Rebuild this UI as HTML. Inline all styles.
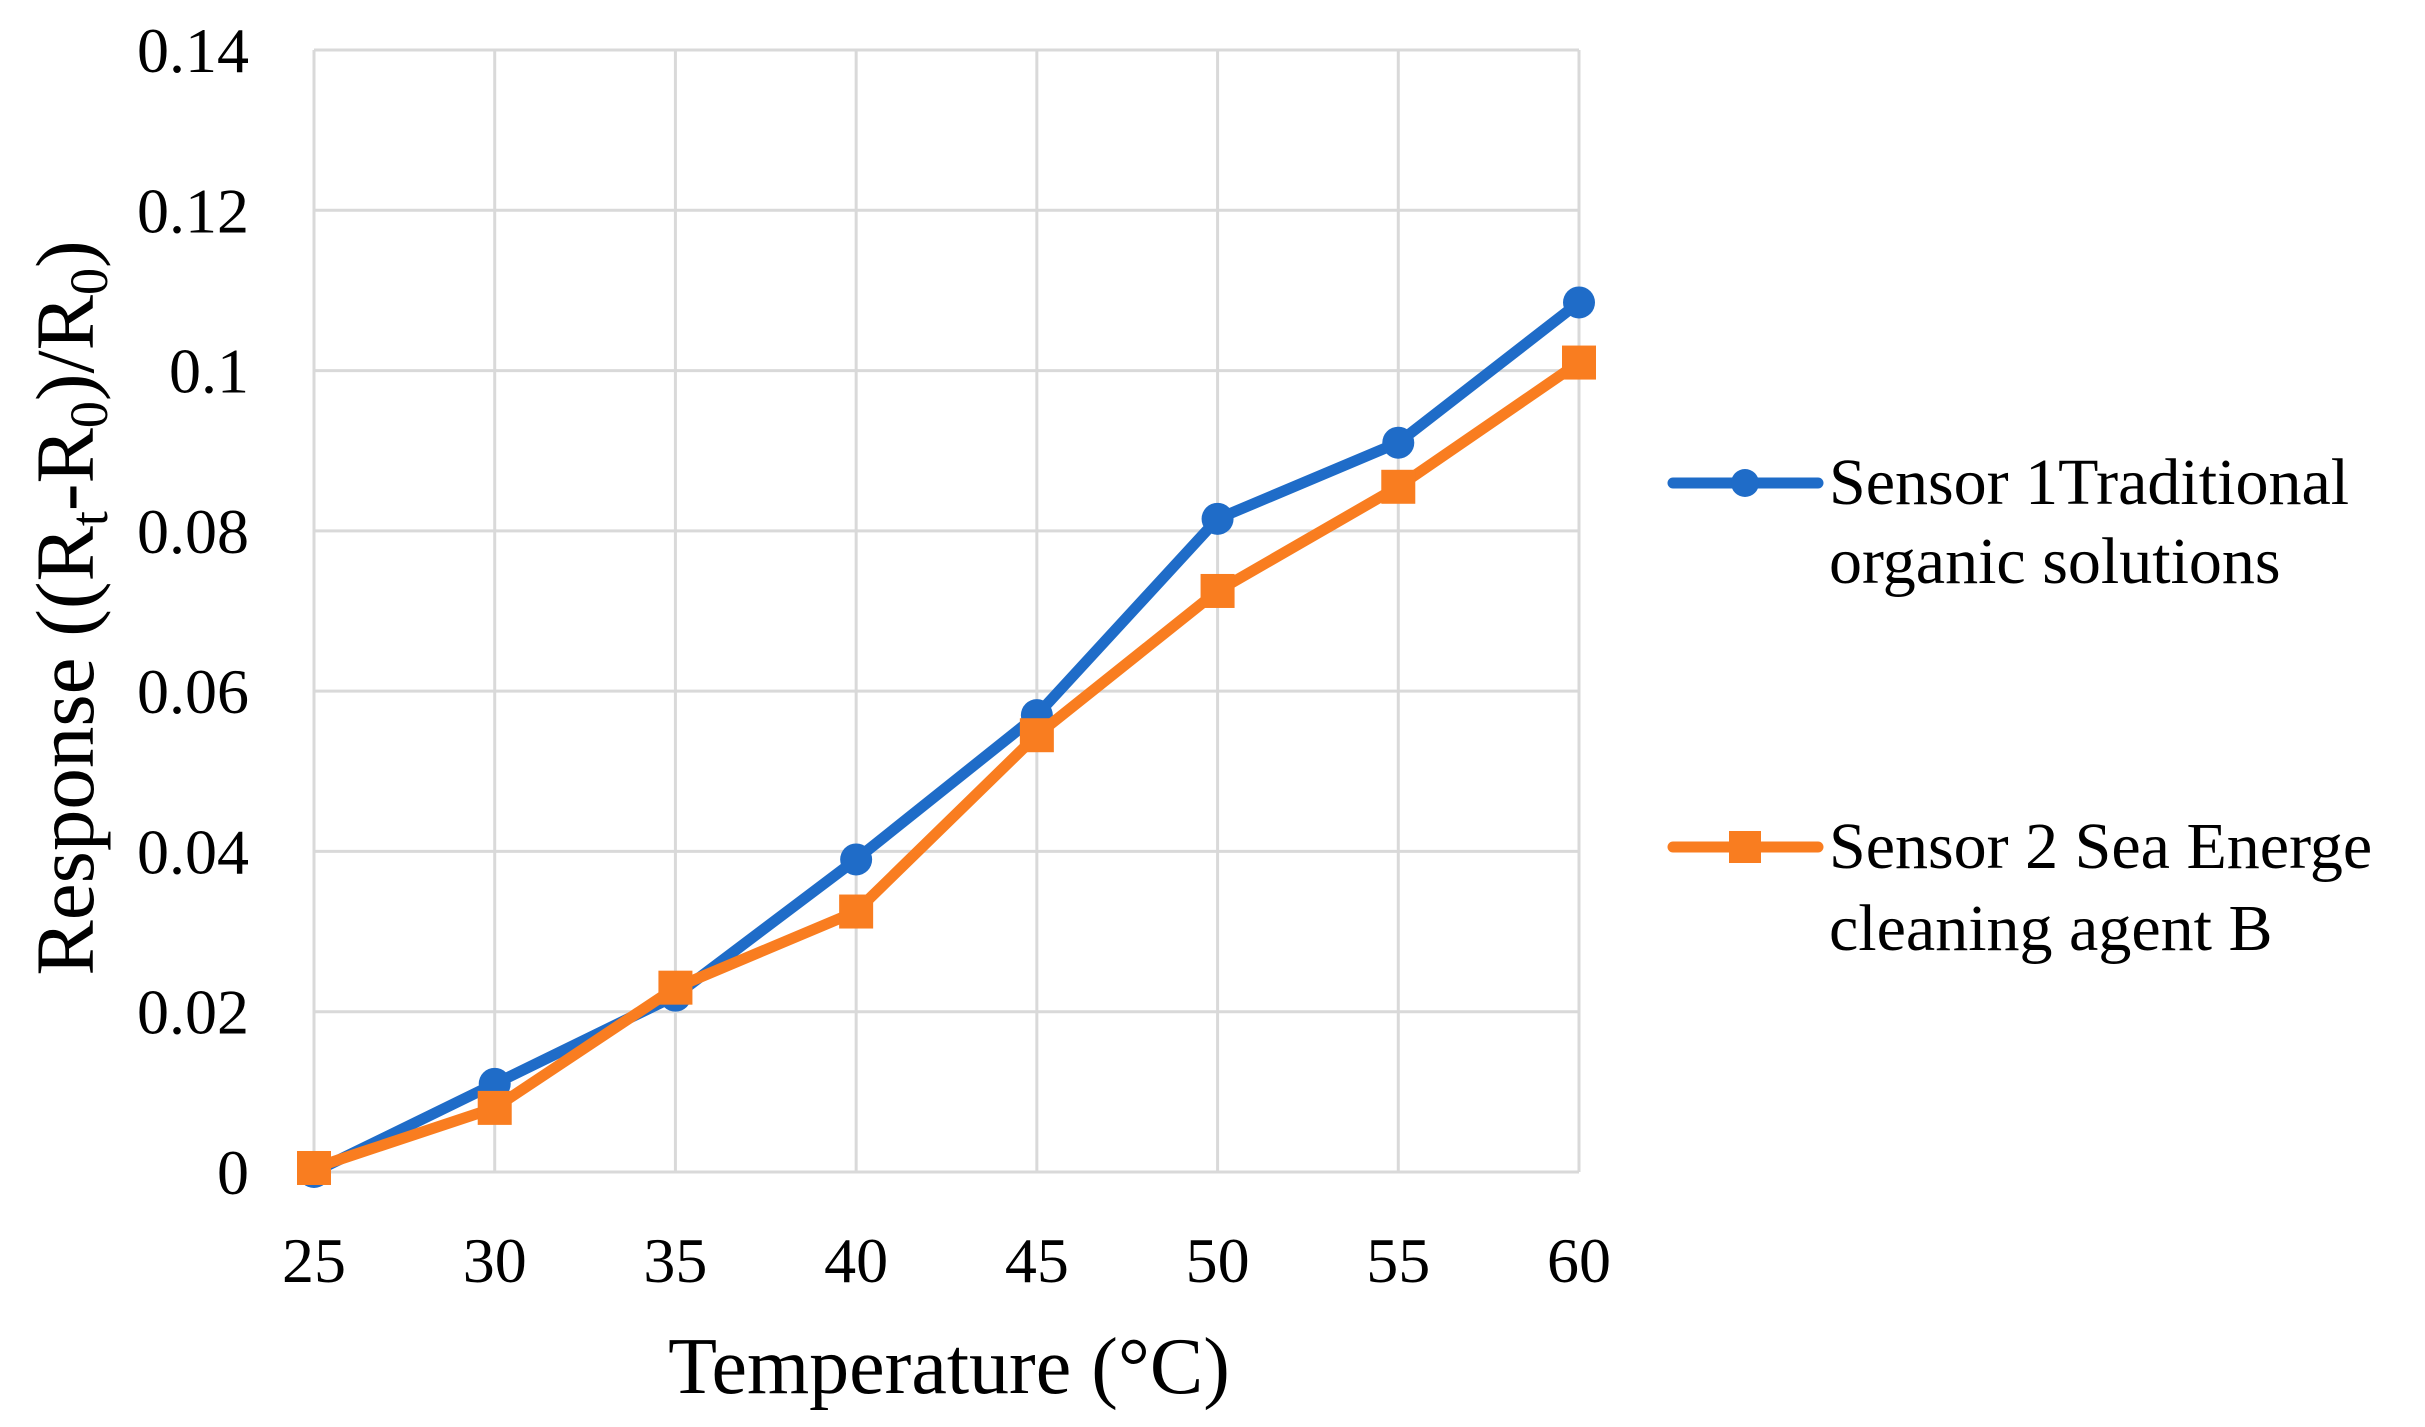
<!DOCTYPE html>
<html><head><meta charset="utf-8"><style>
html,body{margin:0;padding:0;background:#fff;}
svg{display:block;font-family:"Liberation Serif","Times New Roman",serif;}
</style></head><body>
<svg id="chart" width="2425" height="1427" viewBox="0 0 2425 1427">
<g id="grid"></g>
<g id="yticks"></g>
<g id="xticks"></g>
<g id="series"></g>
<text x="949" y="1393" font-size="80" text-anchor="middle">Temperature (°C)</text>
<text transform="translate(93,608) rotate(-90)" font-size="83" text-anchor="middle">Response ((R<tspan font-size="54" dy="14">t</tspan><tspan dy="-14">-R</tspan><tspan font-size="54" dy="14">0</tspan><tspan dy="-14">)/R</tspan><tspan font-size="54" dy="14">0</tspan><tspan dy="-14">)</tspan></text>
<g>
  <g>
    <line x1="1673" y1="483" x2="1818" y2="483" stroke="#1f6cc8" stroke-width="11" stroke-linecap="round"/>
    <circle cx="1745" cy="483" r="14" fill="#1f6cc8"/>
    <text x="1829" y="504" font-size="66">Sensor 1Traditional</text>
    <text x="1829" y="583" font-size="66">organic solutions</text>
  </g>
  <g>
    <line x1="1673" y1="847" x2="1818" y2="847" stroke="#f97d20" stroke-width="11" stroke-linecap="round"/>
    <rect x="1729" y="831" width="32" height="32" fill="#f97d20"/>
    <text x="1829" y="868" font-size="66">Sensor 2 Sea Energe</text>
    <text x="1829" y="950" font-size="66">cleaning agent B</text>
  </g>
</g>
</svg>
<script>
const categories = [25, 30, 35, 40, 45, 50, 55, 60];
const sensor1 = [0, 0.011, 0.022, 0.039, 0.057, 0.0815, 0.091, 0.1085];
const sensor2 = [0.0005, 0.008, 0.023, 0.0325, 0.0545, 0.0725, 0.0855, 0.101];
const yTicks = [0, 0.02, 0.04, 0.06, 0.08, 0.1, 0.12, 0.14];
const yTickLabels = ["0", "0.02", "0.04", "0.06", "0.08", "0.1", "0.12", "0.14"];

const NS = "http://www.w3.org/2000/svg";
const L = 314, R = 1579, T = 50, B = 1172;
const xMin = 25, xMax = 60, yMin = 0, yMax = 0.14;
function xs(v){ return L + (v - xMin) / (xMax - xMin) * (R - L); }
function ys(v){ return B - (v - yMin) / (yMax - yMin) * (B - T); }
function mk(tag, attrs){ const e = document.createElementNS(NS, tag); for (const k in attrs) e.setAttribute(k, attrs[k]); return e; }

const grid = document.getElementById('grid');
yTicks.forEach(v => {
  const l = mk('line', {x1: L, x2: R, y1: ys(v), y2: ys(v), stroke: '#d9d9d9', 'stroke-width': 3});
  
  
  grid.appendChild(l);
});
categories.forEach(v => {
  const l = mk('line', {x1: xs(v), x2: xs(v), y1: T, y2: B, stroke: '#d9d9d9', 'stroke-width': 3});
  
  
  grid.appendChild(l);
});
const yt = document.getElementById('yticks');
yTicks.forEach((v, i) => {
  const t = mk('text', {x: 249, y: ys(v) + 22, 'font-size': 64, 'text-anchor': 'end'});
  t.textContent = yTickLabels[i];
  
  
  yt.appendChild(t);
});
const xt = document.getElementById('xticks');
categories.forEach(v => {
  const t = mk('text', {x: xs(v), y: 1282, 'font-size': 64, 'text-anchor': 'middle'});
  t.textContent = String(v);
  
  
  xt.appendChild(t);
});
const sg = document.getElementById('series');
function drawSeries(vals, color, marker, name){
  const g = mk('g', {});
  
  
  const pts = vals.map((v, i) => xs(categories[i]) + ',' + ys(v)).join(' ');
  const pl = mk('polyline', {points: pts, fill: 'none', stroke: color, 'stroke-width': 11, 'stroke-linejoin': 'round', 'stroke-linecap': 'round'});
  
  
  g.appendChild(pl);
  vals.forEach((v, i) => {
    let m;
    if (marker === 'circle') m = mk('circle', {cx: xs(categories[i]), cy: ys(v), r: 16, fill: color});
    else m = mk('rect', {x: xs(categories[i]) - 17, y: ys(v) - 17, width: 34, height: 34, fill: color});
    
    
    g.appendChild(m);
  });
  sg.appendChild(g);
}
drawSeries(sensor1, '#1f6cc8', 'circle', 'sensor-1-series');
drawSeries(sensor2, '#f97d20', 'square', 'sensor-2-series');
</script>
</body></html>
